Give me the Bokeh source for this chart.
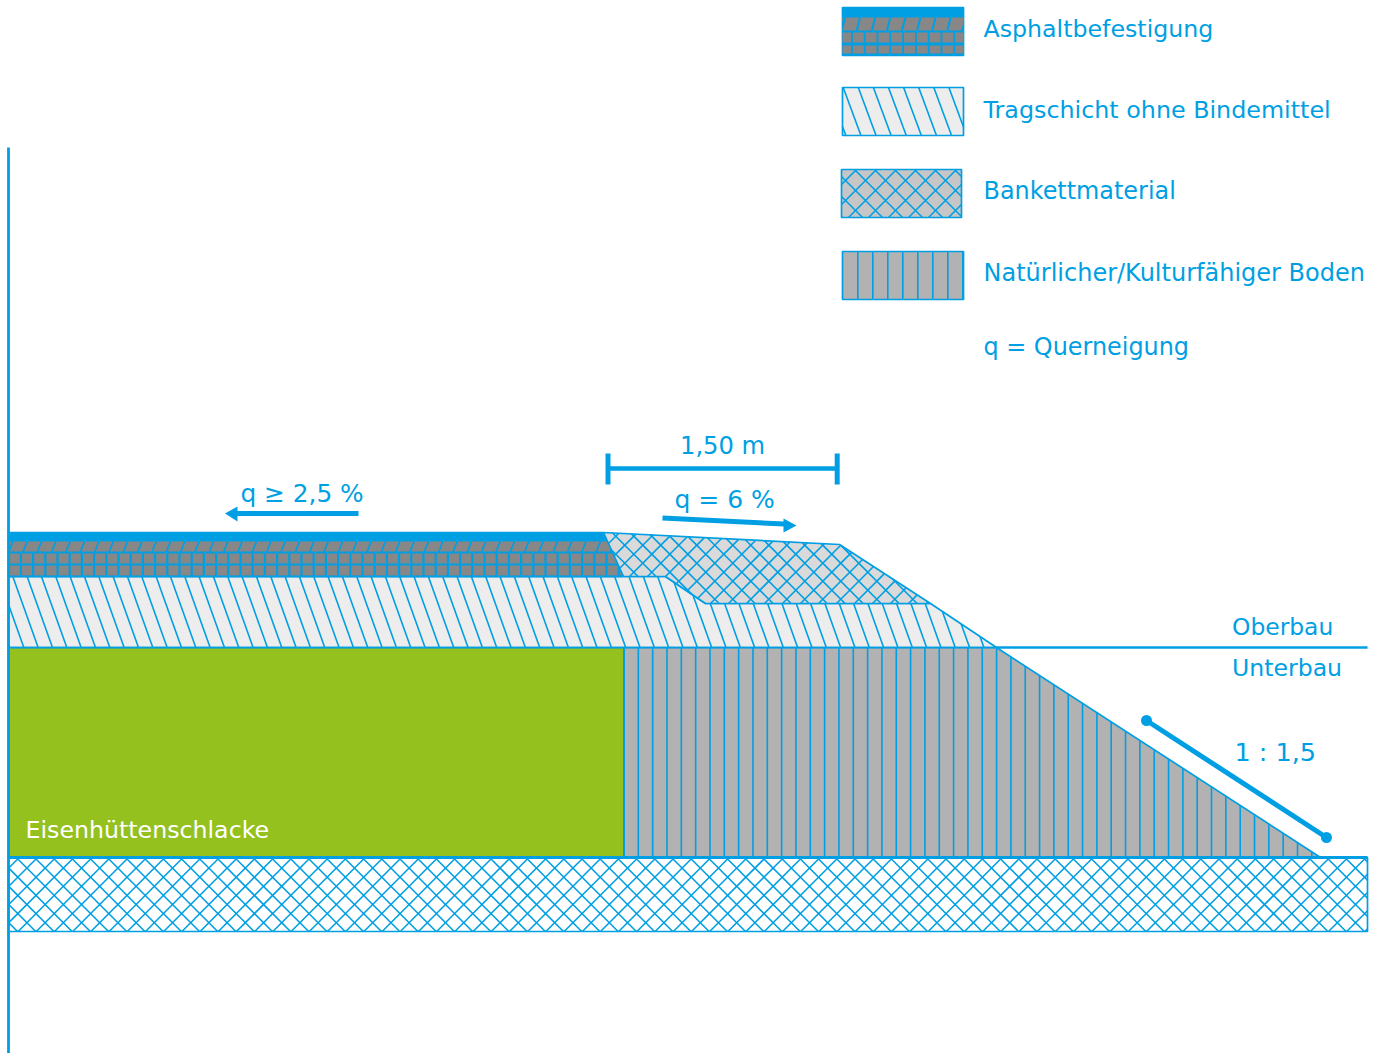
import numpy as np
from bokeh.plotting import figure
from bokeh.models import Range1d, ColumnDataSource
from bokeh.core.properties import value
from bokeh.embed import file_html
from bokeh.resources import INLINE

BLUE = "#009fe3"
GREEN = "#95c11f"
ASPHALT_GREY = "#878787"
BASE_FILL = "#ededed"
BANKETT_FILL = "#dadada"
BANKETT_LEGEND_FILL = "#c6c6c6"
SOIL_FILL = "#b2b2b2"
FONT = "DejaVu Sans"

# cross-section outlines (x, y in page pixels)
asphalt_x = [8, 603, 622, 8]
asphalt_y = [532, 532, 576, 576]
base_x = [8, 665, 705, 930, 996, 8]
base_y = [576, 576, 603, 603, 647, 647]
bankett_x = [603, 839, 930, 705, 665, 623]
bankett_y = [532, 544, 603, 603, 576, 576]
slag_x = [8, 623.5, 623.5, 8]
slag_y = [647, 647, 857, 857]
soil_x = [623.5, 996, 1320, 623.5]
soil_y = [647, 647, 857, 857]
sub_x = [8, 1367, 1367, 8]
sub_y = [857, 857, 931, 931]

# legend swatches: left, top, right, bottom
swatch_asphalt = (842, 7, 963, 55)
swatch_base = (842, 87, 963, 135)
swatch_bankett = (841, 169, 961, 217)
swatch_soil = (842, 251, 963, 299)

# all texts: text, x, baseline, colour, font size
labels = ["Asphaltbefestigung", "Tragschicht ohne Bindemittel", "Bankettmaterial",
          "Natürlicher/Kulturfähiger Boden", "q = Querneigung", "1,50 m", "q = 6 %", "q ≥ 2,5 %",
          "Oberbau", "Unterbau", "1 : 1,5", "Eisenhüttenschlacke"]
label_x = [983, 983, 983, 983, 983, 679.5, 674, 240, 1231.5, 1231.5, 1234, 25]
label_y = [28, 109, 190, 272, 346, 445, 499, 493, 626, 667, 751.5, 829]
label_color = [BLUE] * 11 + ["#ffffff"]
label_size = ["23.7px", "23.8px", "23.9px", "24px", "23.9px", "24.2px", "25px", "24.8px",
              "23.4px", "23.6px", "25.5px", "23.7px"]


def seg_clip(a, b, px, py):
    """Parts of segment a-b inside polygon (px, py)."""
    ts = [0.0, 1.0]
    n = len(px)
    d = (b[0] - a[0], b[1] - a[1])
    for i in range(n):
        c = (px[i], py[i]); e = (px[(i + 1) % n], py[(i + 1) % n])
        f = (e[0] - c[0], e[1] - c[1])
        den = d[0] * f[1] - d[1] * f[0]
        if abs(den) < 1e-9:
            continue
        t = ((c[0] - a[0]) * f[1] - (c[1] - a[1]) * f[0]) / den
        u = ((c[0] - a[0]) * d[1] - (c[1] - a[1]) * d[0]) / den
        if 0 < t < 1 and 0 <= u <= 1:
            ts.append(t)
    ts.sort()
    out = []
    for t0, t1 in zip(ts[:-1], ts[1:]):
        m = (a[0] + d[0] * (t0 + t1) / 2, a[1] + d[1] * (t0 + t1) / 2)
        inside = False
        for i in range(n):
            x0, y0, x1, y1 = px[i], py[i], px[(i + 1) % n], py[(i + 1) % n]
            if (y0 > m[1]) != (y1 > m[1]) and m[0] < x0 + (m[1] - y0) * (x1 - x0) / (y1 - y0):
                inside = not inside
        if inside:
            out.append(([a[0] + d[0] * t0, a[0] + d[0] * t1], [a[1] + d[1] * t0, a[1] + d[1] * t1]))
    return out


def poly_clip(sx, sy, cx, cy):
    """Sutherland-Hodgman against a convex clockwise (on screen) polygon."""
    pts = list(zip(sx, sy))
    n = len(cx)
    for i in range(n):
        ax, ay, bx, by = cx[i], cy[i], cx[(i + 1) % n], cy[(i + 1) % n]
        side = lambda p: (bx - ax) * (p[1] - ay) - (by - ay) * (p[0] - ax)
        res = []
        for j in range(len(pts)):
            p, q = pts[j], pts[(j + 1) % len(pts)]
            sp, sq = side(p), side(q)
            if sp >= 0:
                res.append(p)
            if sp * sq < 0:
                t = sp / (sp - sq)
                res.append((p[0] + (q[0] - p[0]) * t, p[1] + (q[1] - p[1]) * t))
        pts = res
        if not pts:
            break
    return [q[0] for q in pts], [q[1] for q in pts]


def rect(b):
    return [b[0], b[2], b[2], b[0]], [b[1], b[1], b[3], b[3]]


def slanted(p, px, py, y_ref, period, phase, lean=0.357):
    """Lines leaning right going down; `phase` is x at y_ref."""
    xs, ys = [], []
    top, bot = min(py), max(py)
    for x0 in np.arange(phase - 50 * period, max(px) + 50 * period, period):
        a = (x0 + (top - y_ref) * lean, top)
        b = (x0 + (bot - y_ref) * lean, bot)
        for sx, sy in seg_clip(a, b, px, py):
            xs.append(sx); ys.append(sy)
    p.multi_line(xs, ys, line_color=BLUE, line_width=1.6)


def verticals(p, px, py, period, phase):
    xs, ys = [], []
    top, bot = min(py), max(py)
    for x0 in np.arange(phase, max(px), period):
        for sx, sy in seg_clip((x0, top), (x0, bot), px, py):
            xs.append(sx); ys.append(sy)
    p.multi_line(xs, ys, line_color=BLUE, line_width=1.6)


def crossed(p, px, py, period, node):
    xs, ys = [], []
    top, bot = min(py), max(py)
    s0, d0 = node[0] + node[1], node[0] - node[1]
    for c in np.arange(s0 - 200 * period, s0 + 200 * period, period):
        for sx, sy in seg_clip((c - top, top), (c - bot, bot), px, py):
            xs.append(sx); ys.append(sy)
    for c in np.arange(d0 - 200 * period, d0 + 200 * period, period):
        for sx, sy in seg_clip((c + top, top), (c + bot, bot), px, py):
            xs.append(sx); ys.append(sy)
    p.multi_line(xs, ys, line_color=BLUE, line_width=1.6)


def shape(p, px, py, fill, lw=1.7):
    p.patch(px, py, fill_color=fill, line_color=BLUE, line_width=lw)


def asphalt_pattern(p, px, py, para_row, sq_rows, para_period, para_phase, para_w, slant,
                    sq_period, sq_phase, sq_w):
    shape(p, px, py, BLUE)
    xs, ys = [], []
    right = max(px)
    for x0 in np.arange(para_phase - para_period * 2, right + para_period, para_period):
        sx = [x0 + slant, x0 + slant + para_w, x0 + para_w, x0]
        sy = [para_row[0], para_row[0], para_row[1], para_row[1]]
        cx, cy = poly_clip(sx, sy, px, py)
        if len(cx) > 2:
            xs.append(cx); ys.append(cy)
    for r0, r1 in sq_rows:
        for x0 in np.arange(sq_phase - sq_period * 2, right + sq_period, sq_period):
            sx = [x0, x0 + sq_w, x0 + sq_w, x0]
            sy = [r0, r0, r1, r1]
            cx, cy = poly_clip(sx, sy, px, py)
            if len(cx) > 2:
                xs.append(cx); ys.append(cy)
    p.patches(xs, ys, fill_color=ASPHALT_GREY, line_color=None)


p = figure(width=1373, height=1053, output_backend="svg", toolbar_location=None,
           x_range=Range1d(0, 1373), y_range=Range1d(1053, 0),
           x_axis_type=None, y_axis_type=None, min_border=0, outline_line_color=None)
p.grid.visible = False

# cross-section
shape(p, slag_x, slag_y, GREEN)
shape(p, soil_x, soil_y, SOIL_FILL)
verticals(p, soil_x, soil_y, 14.33, 623.5)
shape(p, base_x, base_y, BASE_FILL)
slanted(p, base_x, base_y, 576, 14.33, 12.3)
asphalt_pattern(p, asphalt_x, asphalt_y, (541, 551), [(553, 563), (565, 575)],
                14.33, 9.3, 12.5, 4, 12.2, 9.3, 10)
shape(p, bankett_x, bankett_y, BANKETT_FILL)
crossed(p, bankett_x, bankett_y, 18, (633.3, 535.7))
shape(p, sub_x, sub_y, "#ffffff")
crossed(p, sub_x, sub_y, 18.2, (17.3, 876.7))

# legend swatches
ax, ay = rect(swatch_asphalt)
asphalt_pattern(p, ax, ay, (17, 30), [(32, 42), (45, 53)],
                15.1, 842.2, 13, 3.3, 12.8, 839.5, 11)
bx, by = rect(swatch_base)
shape(p, bx, by, BASE_FILL)
slanted(p, bx, by, 87, 15.1, 842.7, lean=0.37)
cx, cy = rect(swatch_bankett)
shape(p, cx, cy, BANKETT_LEGEND_FILL)
crossed(p, cx, cy, 20, (845, 180))
dx, dy = rect(swatch_soil)
shape(p, dx, dy, SOIL_FILL)
verticals(p, dx, dy, 15, 857.3)

# construction lines
p.line([8, 8], [147, 1053], line_color=BLUE, line_width=2.8)
p.line([996, 1367], [647, 647], line_color=BLUE, line_width=2.4)
p.line([8, 1367], [857, 857], line_color=BLUE, line_width=2.8)
p.line([8, 996], [647, 647], line_color=BLUE, line_width=1.7)
p.line([8, 622], [576, 576], line_color=BLUE, line_width=1.7)

# dimension bar
p.line([607.5, 836.7], [468, 468], line_color=BLUE, line_width=4.5)
p.segment([607.5, 836.7], [453, 453], [607.5, 836.7], [484, 484], line_color=BLUE, line_width=5)

# cross-fall arrows
p.line([662, 784], [517.5, 523.5], line_color=BLUE, line_width=5)
p.patch([796, 783, 783], [525, 518, 532], fill_color=BLUE, line_color=None)
p.line([358, 235], [513, 513], line_color=BLUE, line_width=5)
p.patch([224.5, 237, 237], [513, 506, 521], fill_color=BLUE, line_color=None)

# slope marker
p.line([1146, 1326], [720, 837], line_color=BLUE, line_width=5)
p.scatter([1146, 1326], [720, 837], size=11, fill_color=BLUE, line_color=None)

# text
src = ColumnDataSource(dict(x=label_x, y=label_y, t=labels, c=label_color, s=label_size))
p.text("x", "y", text="t", text_color="c", text_font_size="s", source=src,
       text_font=value(FONT), text_baseline="alphabetic", text_align="left")

open("out.html", "w").write(file_html(p, INLINE))
